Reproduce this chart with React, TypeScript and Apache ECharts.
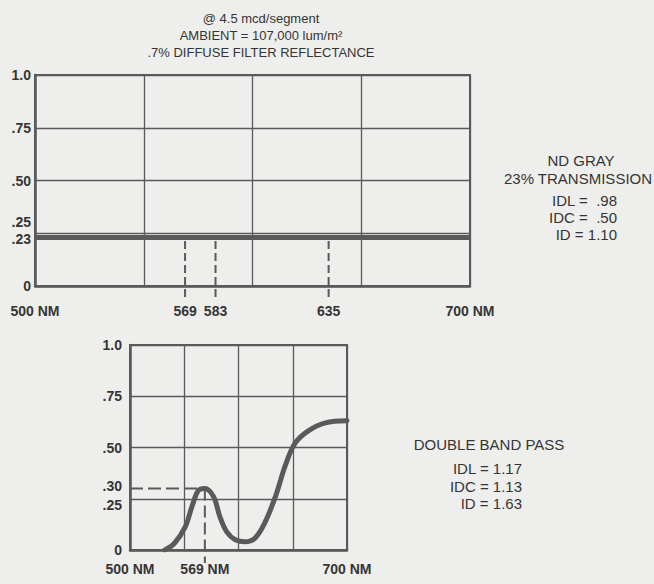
import React, { useEffect, useRef } from "react";
import * as echarts from "echarts";

// ---- data ----
const titleLines = ["@ 4.5 mcd/segment", "AMBIENT = 107,000 lum/m²", ".7% DIFFUSE FILTER REFLECTANCE"];

const ndGrayTransmission = 0.23;
const ndGrayMarkers = [569, 583, 635];
const topXLabels = [500, 569, 583, 635, 700];
const topYLabels = [0, 0.5, 0.75, 1.0];
const topYRaisedLabels = [0.25];
const topYLoweredLabels = [0.23];
const ndGrayTitle = ["ND GRAY", "23% TRANSMISSION"];
const ndGrayStats = ["IDL =  .98", "IDC =  .50", "ID = 1.10"];

const bandPassWavelengths = [532, 541, 551, 557, 563, 569, 577, 583, 589, 597, 606, 615, 624, 634, 643, 652, 664, 680, 700];
const bandPassTransmission = [0, 0.033, 0.114, 0.21, 0.29, 0.30, 0.26, 0.16, 0.09, 0.05, 0.04, 0.057, 0.13, 0.26, 0.41, 0.52, 0.58, 0.62, 0.63];
const bandPassPeakWavelength = 569;
const bandPassPeakValue = 0.3;
const bottomXLabels = [500, 569, 700];
const bottomYLabels = [0, 0.5, 0.75, 1.0];
const bottomYRaisedLabels = [0.3];
const bottomYLoweredLabels = [0.25];
const bandPassTitle = "DOUBLE BAND PASS";
const bandPassStats = ["IDL = 1.17", "IDC = 1.13", "ID = 1.63"];

// ---- styles ----
const LINE = "#5a5a5a";
const TEXT = "#353535";
const FONT = "'Liberation Sans', Arial, Helvetica, sans-serif";

const fmtY = (v: number) => {
  if (v === 0) return "0";
  if (v === 1) return "1.0";
  return v.toFixed(2).replace(/^0/, "");
};

export default function App() {
  const ref = useRef<HTMLDivElement>(null);
  useEffect(() => {
    if (!ref.current) return;
    const chart = echarts.init(ref.current, undefined, { renderer: "svg" });

    const axisLabelBase = { color: TEXT, fontSize: 14, fontWeight: "bold", fontFamily: FONT };
    const axisLine = { show: true, onZero: false, lineStyle: { color: LINE, width: 2.5 } };
    const splitLine = { show: true, lineStyle: { color: LINE, width: 1.3 } };

    const extraY = (gridIndex: number, values: number[], margin: number, verticalAlign: string, lineHeight: number) => ({
      gridIndex,
      type: "value",
      position: "left",
      min: 0,
      max: 1,
      interval: 0.25,
      axisLine: { show: false },
      axisTick: { show: false },
      splitLine: { show: false },
      axisLabel: {
        ...axisLabelBase,
        customValues: values,
        margin,
        verticalAlign,
        lineHeight,
        formatter: fmtY,
      },
    });

    const markerSeries = ndGrayMarkers.map((w) => ({
      type: "line",
      xAxisIndex: 0,
      yAxisIndex: 0,
      data: [
        [w, 0.213],
        [w, -0.066],
      ],
      symbol: "none",
      clip: false,
      silent: true,
      lineStyle: { color: LINE, width: 2, type: [8, 4] },
      z: 4,
    }));

    const textEl = (text: string, x: number, y: number, size: number, align: string, weight = "normal") => ({
      type: "text",
      x,
      y,
      style: {
        text,
        font: `${weight} ${size}px ${FONT}`,
        fill: TEXT,
        textAlign: align,
        textVerticalAlign: "middle",
        align,
        verticalAlign: "middle",
      },
    });

    const option: any = {
      animation: false,
      backgroundColor: "#eeeeec",
      grid: [
        { left: 35, top: 75, width: 435, height: 211, show: true, borderColor: LINE, borderWidth: 2 },
        { left: 130, top: 345, width: 217, height: 205, show: true, borderColor: LINE, borderWidth: 2 },
      ],
      xAxis: [
        {
          gridIndex: 0,
          type: "value",
          min: 500,
          max: 700,
          interval: 50,
          axisLine,
          axisTick: { show: false },
          splitLine,
          axisLabel: {
            ...axisLabelBase,
            customValues: topXLabels,
            margin: 18,
            formatter: (v: number) => (v === 500 || v === 700 ? `${v} NM` : `${v}`),
          },
        },
        {
          gridIndex: 1,
          type: "value",
          min: 500,
          max: 700,
          interval: 50,
          axisLine,
          axisTick: { show: false },
          splitLine,
          axisLabel: {
            ...axisLabelBase,
            customValues: bottomXLabels,
            margin: 12,
            formatter: (v: number) => `${v} NM`,
          },
        },
      ],
      yAxis: [
        {
          gridIndex: 0,
          type: "value",
          min: 0,
          max: 1,
          interval: 0.25,
          axisLine,
          axisTick: { show: false },
          splitLine,
          axisLabel: { ...axisLabelBase, customValues: topYLabels, margin: 4, formatter: fmtY },
        },
        {
          gridIndex: 1,
          type: "value",
          min: 0,
          max: 1,
          interval: 0.25,
          axisLine,
          axisTick: { show: false },
          splitLine,
          axisLabel: { ...axisLabelBase, customValues: bottomYLabels, margin: 8, formatter: fmtY },
        },
        extraY(0, topYRaisedLabels, 4, "bottom", 22),
        extraY(0, topYLoweredLabels, 4, "top", 4),
        extraY(1, bottomYRaisedLabels, 8, "bottom", 6),
        extraY(1, bottomYLoweredLabels, 8, "top", 12),
      ],
      series: [
        {
          type: "line",
          xAxisIndex: 0,
          yAxisIndex: 0,
          data: [
            [500, ndGrayTransmission],
            [700, ndGrayTransmission],
          ],
          symbol: "none",
          silent: true,
          lineStyle: { color: LINE, width: 5 },
          z: 5,
        },
        ...markerSeries,
        {
          type: "line",
          xAxisIndex: 1,
          yAxisIndex: 1,
          data: bandPassWavelengths.map((w, i) => [w, bandPassTransmission[i]]),
          symbol: "none",
          smooth: 0.35,
          silent: true,
          lineStyle: { color: LINE, width: 5, cap: "round" },
          z: 5,
        },
        {
          type: "line",
          xAxisIndex: 1,
          yAxisIndex: 1,
          data: [
            [500, bandPassPeakValue],
            [bandPassPeakWavelength, bandPassPeakValue],
          ],
          symbol: "none",
          silent: true,
          lineStyle: { color: LINE, width: 2, type: [13, 5] },
          z: 4,
        },
        {
          type: "line",
          xAxisIndex: 1,
          yAxisIndex: 1,
          clip: false,
          data: [
            [bandPassPeakWavelength, bandPassPeakValue],
            [bandPassPeakWavelength, -0.063],
          ],
          symbol: "none",
          silent: true,
          lineStyle: { color: LINE, width: 2, type: [12, 5] },
          z: 4,
        },
      ],
      graphic: [
        textEl(titleLines[0], 261, 18, 13, "center"),
        textEl(titleLines[1], 261, 35, 13, "center"),
        textEl(titleLines[2], 261, 52, 13, "center"),
        textEl(ndGrayTitle[0], 581, 160, 15, "center"),
        textEl(ndGrayTitle[1], 578, 178, 15, "center"),
        textEl(ndGrayStats[0], 617, 200, 15, "right"),
        textEl(ndGrayStats[1], 617, 217, 15, "right"),
        textEl(ndGrayStats[2], 617, 234, 15, "right"),
        textEl(bandPassTitle, 489, 444, 15, "center"),
        textEl(bandPassStats[0], 522, 468, 15, "right"),
        textEl(bandPassStats[1], 522, 486, 15, "right"),
        textEl(bandPassStats[2], 522, 503, 15, "right"),
      ],
    };

    chart.setOption(option);
    return () => chart.dispose();
  }, []);

  return (
    <div
      ref={ref}
      style={{ position: "absolute", left: 0, top: 0, width: 654, height: 584 }}
    />
  );
}
